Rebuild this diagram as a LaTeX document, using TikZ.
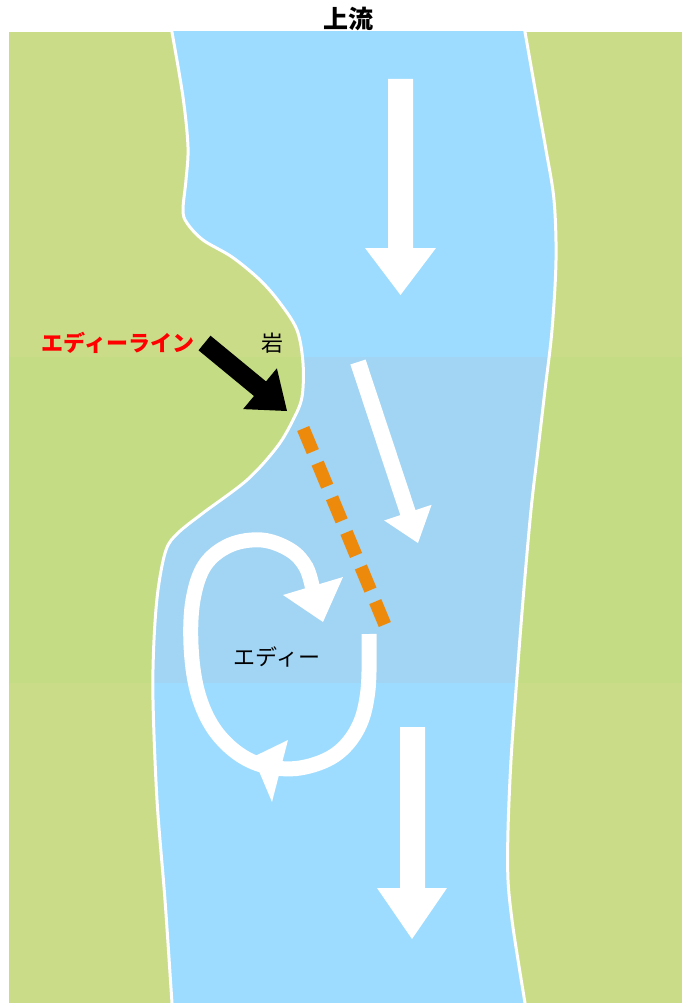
\documentclass[tikz,border=0pt]{standalone}
\usepackage{fontspec}
\newfontfamily\jpfont{Noto Sans CJK JP}
\definecolor{grass}{HTML}{CBDC89}
\definecolor{grassband}{HTML}{C4DC83}
\definecolor{water}{HTML}{9DDCFE}
\definecolor{waterband}{HTML}{A2D4F3}
\definecolor{eddyorange}{HTML}{EE8A0B}
\definecolor{labelred}{HTML}{FF0000}
% river outline: left bank top to bottom, right bank bottom to top
\def\riverpath{plot[smooth, tension=0.55] coordinates {(170,20) (172,32) (183,97) (188,147) (186,180) (183,210) (187,223) (203,240) (232,257) (260,280) (280,303) (297,330) (303,363) (302,397) (293,420) (277,447) (247,480) (203,513) (178,533) (166,550) (158,590) (154,640) (153,700) (157,800) (165,900) (172,1003) (173,1015)}
 -- plot[smooth, tension=0.55] coordinates {(527,1015) (525,1003) (518,960) (512,920) (508,880) (508,830) (511,760) (516,690) (523,600) (531,510) (538,450) (545,390) (552,330) (556,260) (554,200) (546,150) (537,100) (525,32) (523,20)} -- cycle}
\tikzset{
  flowarrow/.style={fill=white},
  pointer/.style={fill=black},
  label/.style={inner sep=0pt, font=\jpfont\fontsize{22}{22}\selectfont},
}
\begin{document}
\begin{tikzpicture}[x=1pt,y=-1pt]
\useasboundingbox[fill=white] (0,0) rectangle (682,1003);

\node[label, font=\jpfont\bfseries\fontsize{25}{25}\selectfont] (upstream) at (348,19) {上流};

\begin{scope}
  \clip (9,32) rectangle (682,1003);
  % banks and the shaded middle band
  \fill[grass] (9,32) rectangle (682,1003);
  \fill[grassband] (9,357) rectangle (682,683);
  % water
  \fill[water] \riverpath;
  \begin{scope}
    \clip \riverpath;
    \fill[waterband] (9,357) rectangle (682,683);
  \end{scope}
  \draw[white, line width=3pt] \riverpath;
\end{scope}

% main current
\fill[flowarrow] (388,79) -- (413,79) -- (413,248) -- (436,248) -- (400.5,295) -- (365,248) -- (388,248) -- cycle;
\fill[flowarrow] (350.4,364.5) -- (365.6,359.5) -- (415.5,510.1) -- (431.6,504.8) -- (418,543) -- (384.2,520.5) -- (400.3,515.1) -- cycle;
\fill[flowarrow] (400,727) -- (425,727) -- (425,888) -- (447,888) -- (412,939) -- (377,888) -- (400,888) -- cycle;

% eddy line
\coordinate (lineA) at (303.2,428.5);
\coordinate (lineB) at (384.8,624.5);
\draw[eddyorange, line width=13pt, dash pattern=on 25pt off 12.5pt] (lineA) -- (lineB);

% eddy loop
\draw[white, line width=15pt] plot[smooth, tension=0.6] coordinates {(369,634) (368,690) (358,728) (335,755) (300,768) (265,766) (236,752) (212,726) (197,690) (191,645) (193,600) (205,565) (230,545) (262,540) (290,550) (306,567) (313,590)};
\fill[flowarrow] (283,595) -- (343,577) -- (323,622) -- cycle;
\fill[flowarrow] (288,740) -- (272,802) -- (253,757) -- cycle;

% labels
\node[label, font=\jpfont\bfseries\fontsize{22}{22}\selectfont, text=labelred] (eddyline) at (118,343) {エディーライン};
\node[label] (rock) at (272,343) {岩};
\node[label] (eddy) at (277,657) {エディー};

% pointer from label to the rock
\fill[pointer] (210.5,335.7) -- (266,381.4) -- (276.9,368.3) -- (287,411) -- (243.1,409.1) -- (254,396) -- (198.5,350.3) -- cycle;
\end{tikzpicture}
\end{document}
